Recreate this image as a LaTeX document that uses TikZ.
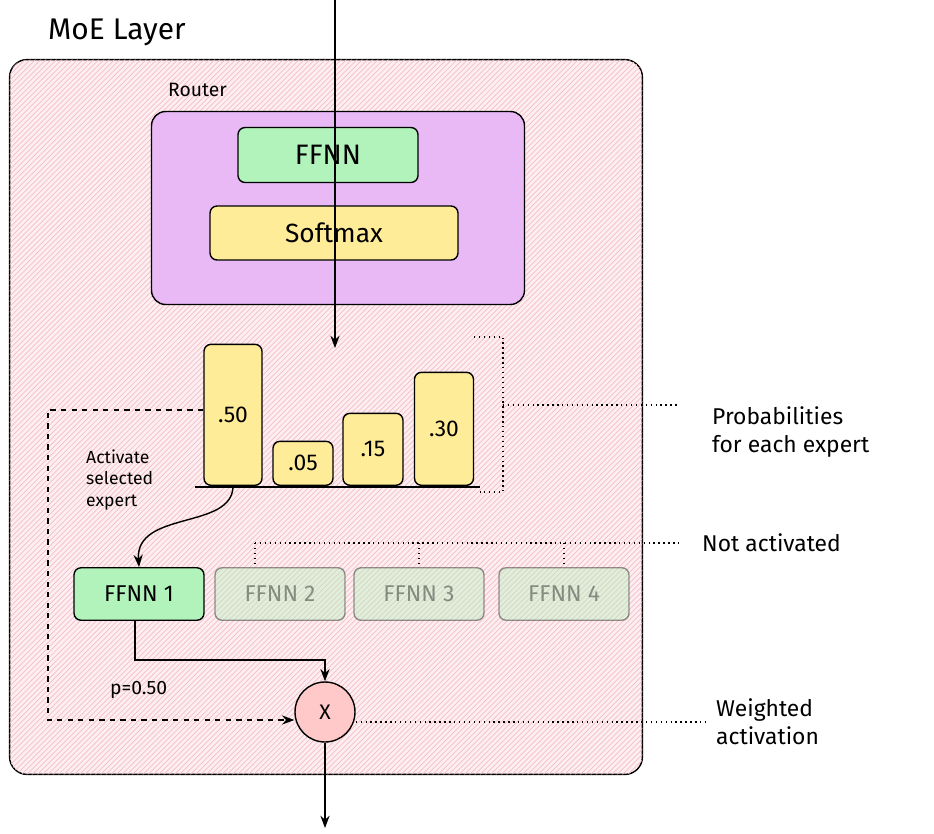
\documentclass[tikz,border=0pt]{standalone}
\usepackage{fontspec}
\setmainfont{Fira Sans}
\usetikzlibrary{patterns,arrows.meta}
\definecolor{moepink}{RGB}{253,238,241}
\definecolor{hatch}{RGB}{245,190,200}
\definecolor{routerpurple}{RGB}{232,185,245}
\definecolor{ffgreen}{RGB}{178,242,187}
\definecolor{smyellow}{RGB}{255,236,153}
\definecolor{xred}{RGB}{255,201,201}
\begin{document}
\begin{tikzpicture}[x=0.02cm,y=-0.02cm,
  box/.style={draw,thick,rounded corners=4pt,inner sep=0pt},
  bar/.style={box,fill=smyellow,anchor=south},
  expert/.style={box,fill=ffgreen,minimum width=2.6cm,minimum height=1.05cm,font=\fontsize{13}{15}\selectfont},
  off/.style={expert,draw opacity=0.4,fill opacity=0.4,text opacity=0.4},
  lbl/.style={font=\fontsize{13}{16}\selectfont,align=left,anchor=west},
  arr/.style={-{Stealth[length=7pt]},thick}]
\useasboundingbox (0,0) rectangle (934,833);

\node[box,rounded corners=10pt,fill=moepink,postaction={pattern=north east lines,pattern color=hatch},
  minimum width=12.66cm,minimum height=14.3cm] (moe) at (326,417) {};
\node[anchor=west,font=\fontsize{17}{20}\selectfont] (title) at (42,32) {MoE Layer};
\node[anchor=west,font=\fontsize{11}{13}\selectfont] (routerlbl) at (162,90) {Router};

\node[box,rounded corners=8pt,fill=routerpurple,minimum width=7.46cm,minimum height=3.86cm] (router) at (338,208) {};
\node[box,fill=ffgreen,minimum width=3.6cm,minimum height=1.1cm,font=\fontsize{16}{18}\selectfont] (ffnn) at (328,155) {FFNN};
\node[box,fill=smyellow,minimum width=4.96cm,minimum height=1.08cm,font=\fontsize{15}{18}\selectfont] (softmax) at (334,233) {Softmax};
\coordinate (in) at (335,0);
\coordinate (probs) at (335,348);
\draw[arr] (in) -- (probs);

% bars
\coordinate (base) at (233,486);
\node[bar,minimum width=1.16cm,minimum height=2.82cm,font=\fontsize{13}{15}\selectfont] (b1) at (233,486) {.50};
\node[bar,minimum width=1.2cm,minimum height=0.88cm,font=\fontsize{13}{15}\selectfont] (b2) at (303,486) {.05};
\node[bar,minimum width=1.2cm,minimum height=1.44cm,font=\fontsize{13}{15}\selectfont] (b3) at (373,486) {.15};
\node[bar,minimum width=1.18cm,minimum height=2.26cm,font=\fontsize{13}{15}\selectfont] (b4) at (444,486) {.30};
\coordinate (bl) at (195,487);
\coordinate (br) at (480,487);
\draw[thick] (bl) -- (br);

% probability bracket
\coordinate (p1) at (474,337);
\coordinate (p2) at (503,337);
\coordinate (p3) at (503,492);
\coordinate (p4) at (480,492);
\coordinate (p5) at (503,405);
\coordinate (p6) at (680,405);
\draw[dotted,thick] (p1) -- (p2) -- (p3) -- (p4);
\draw[dotted,thick] (p5) -- (p6);
\node[lbl] (problbl) at (706,432) {Probabilities\\for each expert};

% experts
\node[expert] (e1) at (139,594) {FFNN 1};
\node[off] (e2) at (280,594) {FFNN 2};
\node[off] (e3) at (419,594) {FFNN 3};
\node[off] (e4) at (564,594) {FFNN 4};
\coordinate (n0) at (255,543);
\coordinate (n1) at (680,543);
\draw[dotted,thick] (n0) -- (n1);
\draw[dotted,thick] (n0) -- (e2.north -| n0);
\draw[dotted,thick] (e3.north |- n0) -- (e3.north);
\draw[dotted,thick] (e4.north |- n0) -- (e4.north);
\node[lbl] (notlbl) at (696,543) {Not activated};

\node[lbl,font=\fontsize{10}{12}\selectfont] (actlbl) at (80,480) {Activate\\selected\\expert};
\draw[arr] (b1.south) .. controls (233,530) and (135,510) .. (e1.north);

% weighting
\node[draw,thick,circle,fill=xred,minimum size=1.2cm,font=\fontsize{12}{14}\selectfont] (mult) at (325,712) {X};
\coordinate (d0) at (48,410);
\coordinate (d1) at (48,720);
\draw[arr,dashed] (b1.west |- d0) -- (d0) -- (d1) -- (mult.west |- d1);
\node[anchor=west,font=\fontsize{11}{13}\selectfont] (plbl) at (104,690) {p=0.50};
\coordinate (f1) at (135,660);
\coordinate (f2) at (325,660);
\draw[arr] (e1.south -| f1) -- (f1) -- (f2) -- (mult.north);
\coordinate (out) at (325,828);
\draw[arr] (mult.south) -- (out);
\coordinate (w1) at (705,722);
\draw[dotted,thick] (mult.east |- w1) -- (w1);
\node[lbl] (wlbl) at (710,722) {Weighted\\activation};
\end{tikzpicture}
\end{document}
